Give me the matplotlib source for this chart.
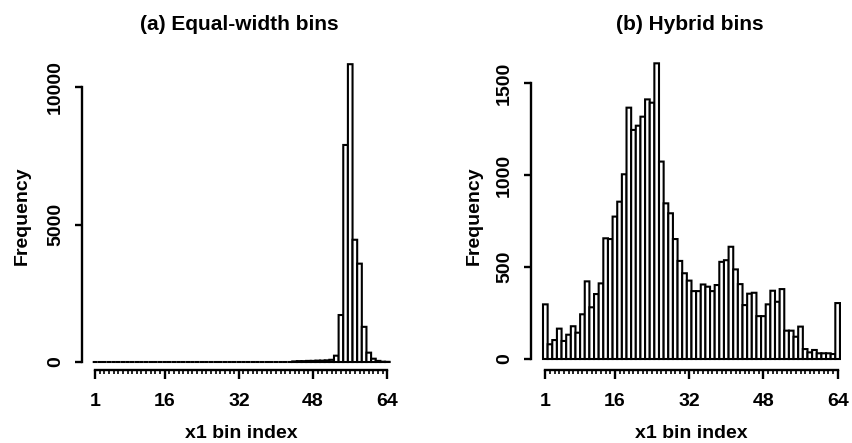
import matplotlib
matplotlib.use("Agg")
import matplotlib.pyplot as plt
import numpy as np

plt.rcParams['font.family'] = ['Liberation Sans', 'DejaVu Sans']

# ---- data: bin counts for the 64 x1 bins ----
bin_index = np.arange(1, 65)

equal_width_counts = [
    0, 0, 0, 0, 0, 0, 0, 0, 0, 0, 0, 0, 0, 0, 0, 0,
    0, 0, 0, 0, 0, 0, 0, 0, 0, 0, 0, 0, 0, 0, 0, 0,
    0, 0, 0, 0, 0, 0, 0, 0, 0, 0, 0, 20, 30, 30, 40, 40,
    50, 50, 60, 80, 230, 1710, 7900, 10840, 4450, 3580, 1280, 340, 120, 40, 10, 5,
]

hybrid_counts = [
    297, 80, 103, 165, 98, 132, 178, 143, 243, 422, 281, 353, 411, 656, 652, 774,
    855, 1004, 1366, 1245, 1268, 1317, 1411, 1393, 1607, 1073, 846, 792, 652, 533, 466, 426,
    369, 369, 405, 393, 369, 402, 528, 537, 610, 487, 407, 293, 355, 360, 233, 233,
    297, 371, 311, 380, 154, 154, 121, 176, 54, 36, 49, 31, 31, 31, 27, 304,
]

major_ticks = [1, 16, 32, 48, 64]
titles = ["(a) Equal-width bins", "(b) Hybrid bins"]
ytick_sets = [[0, 5000, 10000], [0, 500, 1000, 1500]]

# ---- layout (pixels, top-left origin) ----
W, H = 852, 443
fig = plt.figure(figsize=(W / 100, H / 100), dpi=100)

# per panel: axes box, x of bar 1 left edge, px per bin, y of zero, counts per px
panels = [
    dict(left=82, right=400, top=55, bottom=370, x0=92.7, dx=4.64, y0=362, cpp=36.4,
         counts=equal_width_counts, title_x=239, ylab_x=22),
    dict(left=531, right=850, top=55, bottom=370, x0=543.0, dx=4.64, y0=359, cpp=5.435,
         counts=hybrid_counts, title_x=690, ylab_x=474),
]

for p, title, yt in zip(panels, titles, ytick_sets):
    ax = fig.add_axes([p['left'] / W, 1 - p['bottom'] / H,
                       (p['right'] - p['left']) / W, (p['bottom'] - p['top']) / H])
    bars = ax.bar(bin_index, p['counts'], width=1.0, color='white', edgecolor='black',
                  linewidth=1.5, clip_on=False)
    for b in bars:
        b.set_snap(False)

    ax.set_xlim(0.5 + (p['left'] - p['x0']) / p['dx'], 0.5 + (p['right'] - p['x0']) / p['dx'])
    ax.set_ylim(-(p['bottom'] - p['y0']) * p['cpp'], (p['y0'] - p['top']) * p['cpp'])

    for s in ['top', 'right']:
        ax.spines[s].set_visible(False)
    ax.spines['left'].set_bounds(yt[0], yt[-1])
    ax.spines['bottom'].set_bounds(1, 64)
    for s in ['left', 'bottom']:
        ax.spines[s].set_linewidth(1.7)

    ax.set_xticks(major_ticks)
    ax.set_xticks(bin_index, minor=True)
    ax.set_xticklabels([str(t) for t in major_ticks], fontsize=14, fontweight='bold')
    ax.tick_params(axis='x', which='major', length=6.5, width=1.7, pad=10)
    ax.tick_params(axis='x', which='minor', length=3, width=1.2)

    ax.set_yticks(yt)
    ax.set_yticklabels([str(t) for t in yt], fontsize=14, fontweight='bold',
                       rotation=90, va='center')
    ax.tick_params(axis='y', which='major', length=5, width=1.7, pad=8)

    cx = p['x0'] + 32 * p['dx']
    fig.text(p['title_x'] / W, 1 - 25 / H, title, fontsize=15, fontweight='bold',
             ha='center', va='center')
    fig.text(cx / W, 1 - 433 / H, "x1 bin index", fontsize=14, fontweight='bold',
             ha='center', va='center')
    fig.text(p['ylab_x'] / W, 1 - 216 / H, "Frequency", fontsize=14, fontweight='bold',
             ha='center', va='center', rotation=90)

fig.savefig("out.png", dpi=100)
